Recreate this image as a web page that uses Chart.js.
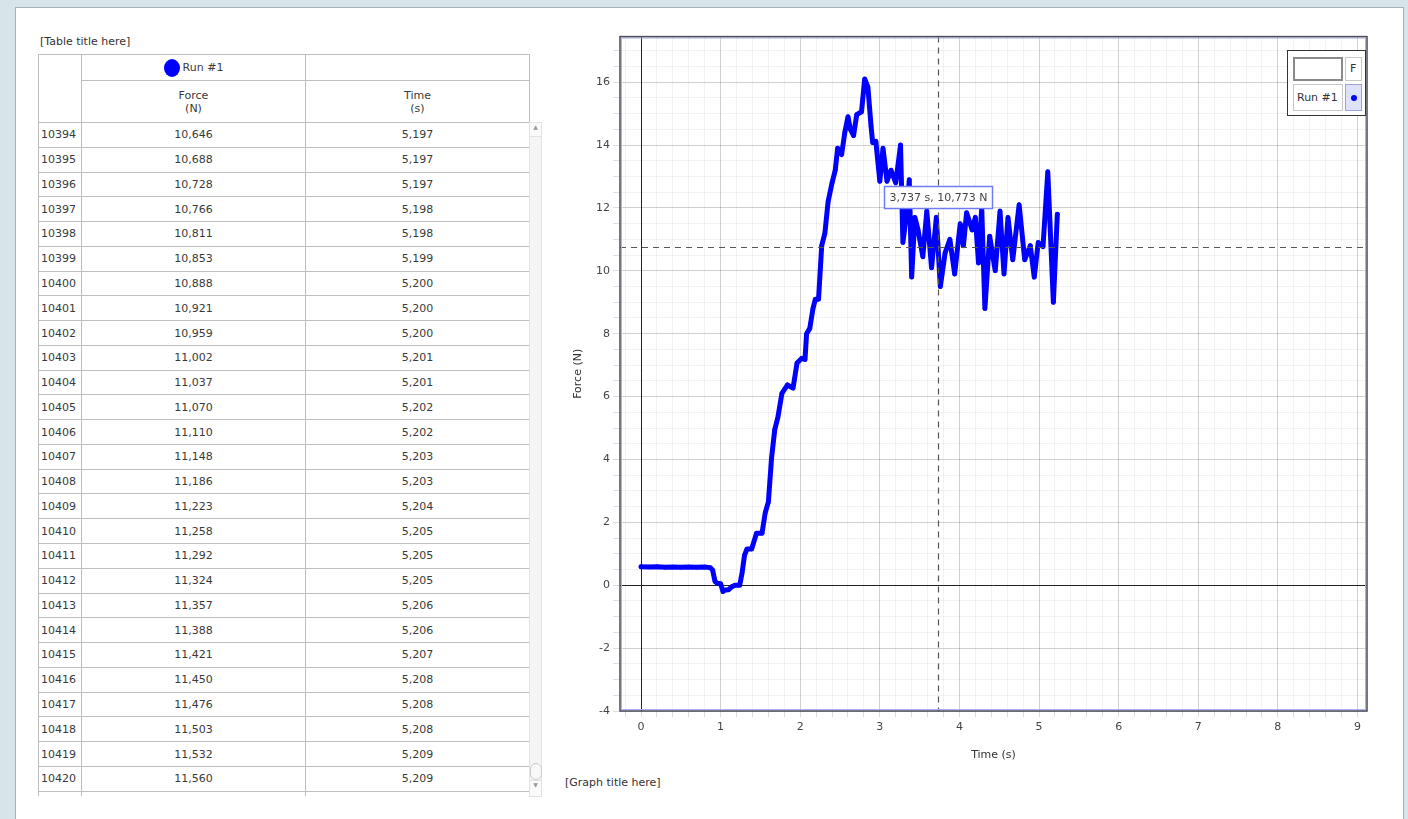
<!DOCTYPE html>
<html>
<head>
<meta charset="utf-8">
<script src="https://cdn.jsdelivr.net/npm/chart.js@4.4.0/dist/chart.umd.min.js"></script>
<style>
    body { margin: 0; width: 1408px; height: 819px; overflow: hidden; background: #d7e4e8; font-family: "DejaVu Sans", sans-serif; font-size: 11px; color: #3a3a3a; }
    #panel { position: absolute; left: 15px; top: 7px; width: 1387px; height: 830px; background: #fff; border: 1px solid #a7b2b6; }
    .caption { position: absolute; font-size: 11px; color: #333; }
    #tableWrap { position: absolute; left: 38px; top: 54px; width: 492px; height: 742px; overflow: hidden; }
    table { border-collapse: collapse; width: 491px; table-layout: fixed; }
    td, th { border: 1px solid #bdbdbd; font-weight: normal; padding: 0; font-size: 11px; color: #3a3a3a; }
    th { text-align: center; }
    td.id { text-align: left; padding-left: 2px; }
    td.v { text-align: center; }
    tr.data td { height: 23.78px; }
    .dot { display: inline-block; width: 16px; height: 18px; border-radius: 50%; background: #0000ff; vertical-align: middle; margin-right: 3px; }
    #scroll { position: absolute; left: 529px; top: 122px; width: 11px; height: 673px; background: #f5f5f5; border: 1px solid #e2e2e2; }
    #chartBox { position: absolute; left: 560px; top: 27px; width: 820px; height: 743px; }
    #legend { position: absolute; left: 1287px; top: 50px; width: 77px; height: 64px; border: 1px solid #333; background: #fff; }
    #legend div { position: absolute; box-sizing: border-box; font-size: 11px; color: #333; }
</style>
</head>
<body>
<div id="panel"></div>
<div class="caption" style="left:40px; top:35px;">[Table title here]</div>
<div id="tableWrap">
    <table id="dataTable">
        <colgroup><col style="width:43px"><col style="width:224px"><col style="width:224px"></colgroup>
        <tr style="height:26px"><th rowspan="2"></th><th><span class="dot"></span>Run #1</th><th></th></tr>
        <tr style="height:42px"><th>Force<br>(N)</th><th>Time<br>(s)</th></tr>
    </table>
</div>
<div id="scroll">
    <div style="position:absolute; left:0; top:0; width:11px; height:13px; border-bottom:1px solid #e2e2e2; background:#fafafa; font-size:6px; text-align:center; color:#999;">&#9650;</div>
    <div style="position:absolute; left:0; top:640px; width:10px; height:15px; border:1px solid #ccc; border-radius:6px; background:#f8f8f8;"></div>
    <div style="position:absolute; left:0; bottom:0; width:11px; height:15px; border-top:1px solid #e2e2e2; background:#fafafa; font-size:6px; text-align:center; color:#999;">&#9660;</div>
</div>
<div id="chartBox"><canvas id="forceChart" width="820" height="743"></canvas></div>
<div id="legend">
    <div style="left:5px; top:6px; width:50px; height:24px; border:2px solid #8a8a8a;"></div>
    <div style="left:57px; top:6px; width:17px; height:24px; border:1px solid #c8c8c8; padding:4px 0 0 4px;">F</div>
    <div style="left:5px; top:33px; width:50px; height:27px; border:1px solid #c8c8c8; padding:6px 0 0 3px;">Run #1</div>
    <div style="left:57px; top:33px; width:17px; height:27px; border:1px solid #9da3d8; background:#dfe2ff;"><span style="position:absolute; left:5px; top:10px; width:6px; height:6px; border-radius:50%; background:#0000ff;"></span></div>
</div>
<div class="caption" style="left:565px; top:776px;">[Graph title here]</div>

<script>
// table rows
var rowIds = [10394, 10395, 10396, 10397, 10398, 10399, 10400, 10401, 10402, 10403, 10404, 10405, 10406, 10407,
    10408, 10409, 10410, 10411, 10412, 10413, 10414, 10415, 10416, 10417, 10418, 10419, 10420];
var tableForce = ['10,646', '10,688', '10,728', '10,766', '10,811', '10,853', '10,888', '10,921', '10,959', '11,002',
    '11,037', '11,070', '11,110', '11,148', '11,186', '11,223', '11,258', '11,292', '11,324', '11,357', '11,388',
    '11,421', '11,450', '11,476', '11,503', '11,532', '11,560'];
var tableTime = ['5,197', '5,197', '5,197', '5,198', '5,198', '5,199', '5,200', '5,200', '5,200', '5,201', '5,201',
    '5,202', '5,202', '5,203', '5,203', '5,204', '5,205', '5,205', '5,205', '5,206', '5,206', '5,207', '5,208',
    '5,208', '5,208', '5,209', '5,209'];

// graph series: Run #1
var runTime = [0.00, 0.10, 0.20, 0.30, 0.40, 0.50, 0.60, 0.70, 0.80, 0.87, 0.90, 0.93, 0.96, 1.00, 1.03, 1.06,
    1.10, 1.14, 1.18, 1.24, 1.27, 1.30, 1.33, 1.39, 1.45, 1.52, 1.56, 1.60, 1.64, 1.68, 1.72, 1.77, 1.84, 1.91,
    1.96, 2.02, 2.06, 2.08, 2.12, 2.16, 2.19, 2.23, 2.27, 2.31, 2.35, 2.40, 2.44, 2.47, 2.52, 2.56, 2.60, 2.63,
    2.67, 2.71, 2.77, 2.81, 2.85, 2.89, 2.91, 2.95, 3.00, 3.04, 3.09, 3.14, 3.20, 3.26, 3.29, 3.34, 3.37, 3.40,
    3.44, 3.48, 3.54, 3.59, 3.65, 3.71, 3.76, 3.82, 3.88, 3.94, 4.01, 4.05, 4.09, 4.16, 4.20, 4.24, 4.28, 4.32,
    4.38, 4.45, 4.51, 4.56, 4.61, 4.67, 4.75, 4.82, 4.89, 4.94, 4.99, 5.05, 5.11, 5.18, 5.23];
var runForce = [0.59, 0.58, 0.59, 0.57, 0.58, 0.57, 0.58, 0.57, 0.58, 0.56, 0.48, 0.12, 0.06, 0.05, -0.20, -0.15,
    -0.14, -0.05, 0.00, 0.00, 0.40, 0.95, 1.15, 1.15, 1.65, 1.65, 2.30, 2.65, 4.05, 4.95, 5.35, 6.10, 6.37, 6.27,
    7.07, 7.22, 7.18, 8.00, 8.17, 8.80, 9.10, 9.10, 10.80, 11.20, 12.20, 12.80, 13.20, 13.90, 13.70, 14.40, 14.90, 14.50,
    14.30, 14.97, 15.06, 16.10, 15.85, 14.60, 14.08, 14.12, 12.85, 13.90, 12.85, 13.20, 12.80, 14.00, 10.90, 11.90, 12.90, 9.80,
    11.70, 11.30, 10.45, 11.90, 10.10, 11.70, 9.50, 10.57, 11.00, 9.90, 11.50, 10.80, 11.85, 11.30, 11.70, 10.25, 12.00, 8.80,
    11.10, 10.00, 11.90, 9.90, 11.70, 10.35, 12.10, 10.35, 10.80, 9.80, 10.90, 10.77, 13.15, 9.00, 11.80];

// cursor readout
var cursorTime = 3.737;
var cursorForce = 10.773;

var timeMin = -0.264, timeMax = 9.12;
var forceMin = -4, forceMax = 17.45;

document.addEventListener('DOMContentLoaded', function () {

    var table = document.getElementById('dataTable');
    for (var i = 0; i < rowIds.length; i++) {
        var tr = document.createElement('tr');
        tr.className = 'data';
        tr.innerHTML = '<td class="id">' + rowIds[i] + '</td><td class="v">' + tableForce[i] + '</td><td class="v">' + tableTime[i] + '</td>';
        table.appendChild(tr);
    }
    var tail = document.createElement('tr');
    tail.className = 'data';
    tail.innerHTML = '<td></td><td></td><td></td>';
    table.appendChild(tail);

    var points = runTime.map(function (t, i) { return { x: t, y: runForce[i] }; });

    function stepTicks(from, to, step) {
        var out = [];
        for (var v = from; v <= to + 1e-9; v += step) out.push({ value: Math.round(v * 100) / 100 });
        return out;
    }
    function isMajor(v, every) {
        return Math.abs(v / every - Math.round(v / every)) < 1e-6;
    }

    // zero lines + plot frame
    var frame = {
        id: 'frame',
        beforeDatasetsDraw: function (chart) {
            var a = chart.chartArea, c = chart.ctx;
            var x0 = Math.round(chart.scales.x.getPixelForValue(0)) + 0.5;
            var y0 = Math.round(chart.scales.y.getPixelForValue(0)) + 0.5;
            c.save();
            c.strokeStyle = '#222';
            c.lineWidth = 1;
            c.beginPath();
            c.moveTo(x0, a.top); c.lineTo(x0, a.bottom);
            c.moveTo(a.left, y0); c.lineTo(a.right, y0);
            c.stroke();
            c.restore();
        },
        afterDraw: function (chart) {
            var a = chart.chartArea, c = chart.ctx;
            c.save();
            c.strokeStyle = '#aab3f0';
            c.lineWidth = 1;
            c.strokeRect(a.left + 1.5, a.top + 1.5, a.right - a.left - 3, a.bottom - a.top - 3);
            c.strokeStyle = '#4a4a5a';
            c.lineWidth = 1.5;
            c.strokeRect(a.left, a.top, a.right - a.left, a.bottom - a.top);
            c.restore();
        }
    };

    var crosshair = {
        id: 'crosshair',
        afterDatasetsDraw: function (chart) {
            var a = chart.chartArea, c = chart.ctx;
            var px = chart.scales.x.getPixelForValue(cursorTime);
            var py = chart.scales.y.getPixelForValue(cursorForce);
            c.save();
            c.strokeStyle = '#555';
            c.lineWidth = 1.2;
            c.setLineDash([6, 5]);
            c.beginPath();
            c.moveTo(Math.round(px) + 0.5, a.top);
            c.lineTo(Math.round(px) + 0.5, a.bottom);
            c.moveTo(a.left, Math.round(py) + 0.5);
            c.lineTo(a.right, Math.round(py) + 0.5);
            c.stroke();
            c.setLineDash([]);
            var text = cursorTime.toFixed(3).replace('.', ',') + ' s, ' + cursorForce.toFixed(3).replace('.', ',') + ' N';
            c.font = '11px "DejaVu Sans"';
            var w = Math.round(c.measureText(text).width + 10);
            var bx = Math.round(px - w / 2) + 0.5, by = Math.round(py - 61) + 0.5;
            c.fillStyle = '#fff';
            c.fillRect(bx, by, w, 22);
            c.strokeStyle = '#6f7cf5';
            c.lineWidth = 1.5;
            c.strokeRect(bx, by, w, 22);
            c.fillStyle = '#444';
            c.textBaseline = 'middle';
            c.fillText(text, bx + 5, by + 11.5);
            c.restore();
        }
    };

    var ctx = document.getElementById('forceChart').getContext('2d');
    var forceChart = new Chart(ctx, {
        type: 'line',
        data: {
            datasets: [{
                label: 'Run #1',
                data: points,
                borderColor: '#0000ff',
                backgroundColor: '#0000ff',
                borderWidth: 5,
                borderJoinStyle: 'round',
                borderCapStyle: 'round',
                pointRadius: 2.2,
                pointBorderWidth: 0,
                tension: 0,
                fill: false
            }]
        },
        options: {
            responsive: false,
            animation: false,
            layout: { padding: { top: 4, right: 13, left: 0, bottom: 0 } },
            plugins: { legend: { display: false }, tooltip: { enabled: false } },
            scales: {
                x: {
                    type: 'linear',
                    min: timeMin,
                    max: timeMax,
                    afterBuildTicks: function (axis) { axis.ticks = stepTicks(-0.2, 9, 0.2); },
                    afterFit: function (axis) { axis.height = 59; },
                    grid: {
                        color: function (c) {
                            return isMajor(c.tick.value, 1) ? 'rgba(0,0,0,0.18)' : 'rgba(0,0,0,0.05)';
                        },
                        tickColor: '#dddddd',
                        tickLength: 6
                    },
                    border: { display: false },
                    ticks: {
                        autoSkip: false,
                        maxRotation: 0,
                        padding: 4,
                        color: '#444',
                        font: { family: 'DejaVu Sans', size: 11 },
                        callback: function (v) { return isMajor(v, 1) ? Math.round(v) : ''; }
                    },
                    title: { display: true, text: 'Time (s)', color: '#333', font: { family: 'DejaVu Sans', size: 11 }, padding: { top: 0, bottom: 8 } }
                },
                y: {
                    type: 'linear',
                    min: forceMin,
                    max: forceMax,
                    afterBuildTicks: function (axis) { axis.ticks = stepTicks(-4, 17, 0.5); },
                    afterFit: function (axis) { axis.width = 60; },
                    grid: {
                        color: function (c) {
                            return isMajor(c.tick.value, 2) ? 'rgba(0,0,0,0.18)' : 'rgba(0,0,0,0.05)';
                        },
                        tickColor: '#dddddd',
                        tickLength: 7
                    },
                    border: { display: false },
                    ticks: {
                        autoSkip: false,
                        padding: 3,
                        color: '#444',
                        font: { family: 'DejaVu Sans', size: 11 },
                        callback: function (v) { return isMajor(v, 2) ? Math.round(v) : ''; }
                    },
                    title: { display: true, text: 'Force (N)', color: '#333', font: { family: 'DejaVu Sans', size: 11 }, padding: { top: 12, bottom: 0 } }
                }
            }
        },
        plugins: [frame, crosshair]
    });

});
</script>
</body>
</html>
